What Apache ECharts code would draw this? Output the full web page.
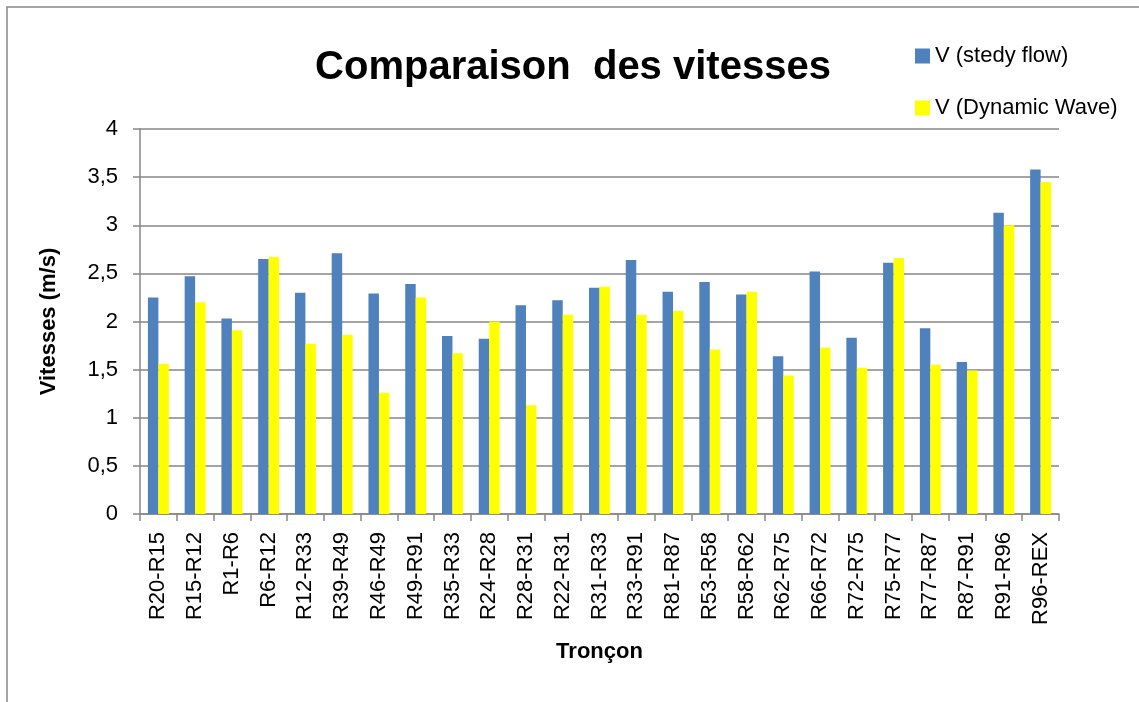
<!DOCTYPE html>
<html>
<head>
<meta charset="utf-8">
<title>Comparaison des vitesses</title>
<script src="https://cdn.jsdelivr.net/npm/echarts@6/dist/echarts.min.js"></script>
<style>
  html, body { margin: 0; padding: 0; background: #fff; }
  #chart { width: 1139px; height: 702px; }
</style>
</head>
<body>
<div id="chart"></div>
<script>
// Tronçons (pipe sections) along the network
const categories = [
  'R20-R15', 'R15-R12', 'R1-R6', 'R6-R12', 'R12-R33', 'R39-R49', 'R46-R49',
  'R49-R91', 'R35-R33', 'R24-R28', 'R28-R31', 'R22-R31', 'R31-R33', 'R33-R91',
  'R81-R87', 'R53-R58', 'R58-R62', 'R62-R75', 'R66-R72', 'R72-R75', 'R75-R77',
  'R77-R87', 'R87-R91', 'R91-R96', 'R96-REX'
];

// Velocities in m/s
const steadyFlow = [
  2.25, 2.47, 2.03, 2.65, 2.30, 2.71, 2.29, 2.39, 1.85, 1.82, 2.17, 2.22, 2.35,
  2.64, 2.31, 2.41, 2.28, 1.64, 2.52, 1.83, 2.61, 1.93, 1.58, 3.13, 3.58
];
const dynamicWave = [
  1.56, 2.20, 1.91, 2.67, 1.77, 1.86, 1.26, 2.25, 1.67, 2.00, 1.13, 2.07, 2.36,
  2.07, 2.11, 1.71, 2.31, 1.44, 1.73, 1.52, 2.66, 1.55, 1.49, 3.00, 3.45
];

const seriesNames = ['V (stedy flow)', 'V (Dynamic Wave)'];

const FONT = "'Liberation Sans', Arial, sans-serif";
const GRAY = '#868686';

const chart = echarts.init(document.getElementById('chart'), null, { renderer: 'canvas' });

chart.setOption({
  backgroundColor: '#ffffff',
  animation: false,
  title: {
    text: 'Comparaison  des vitesses',
    left: 568,
    textAlign: 'center',
    top: 43,
    textStyle: { fontFamily: FONT, fontSize: 40, fontWeight: 'bold', color: '#000' }
  },
  legend: {
    orient: 'vertical',
    left: 910,
    top: 40,
    itemWidth: 15,
    itemHeight: 15,
    itemGap: 30,
    icon: 'rect',
    textStyle: { fontFamily: FONT, fontSize: 22, color: '#000', lineHeight: 22 },
    data: seriesNames
  },
  graphic: [{
    type: 'rect',
    silent: true,
    shape: { x: 7, y: 7, width: 1300, height: 900 },
    style: { fill: 'none', stroke: GRAY, lineWidth: 1.5 }
  }],
  grid: { left: 140, right: 80, top: 129, bottom: 188, containLabel: false },
  xAxis: {
    type: 'category',
    data: categories,
    name: 'Tronçon',
    nameLocation: 'middle',
    nameGap: 127,
    nameTextStyle: { fontFamily: FONT, fontSize: 22, fontWeight: 'bold', color: '#000' },
    axisLine: { lineStyle: { color: GRAY, width: 1.5 } },
    axisTick: { show: true, length: 7, lineStyle: { color: GRAY, width: 1.5 } },
    axisLabel: {
      rotate: 90,
      margin: 18,
      interval: 0,
      fontFamily: FONT,
      fontSize: 22,
      color: '#000'
    }
  },
  yAxis: {
    type: 'value',
    min: 0,
    max: 4,
    interval: 0.5,
    name: 'Vitesses (m/s)',
    nameLocation: 'middle',
    nameRotate: 90,
    nameGap: 80,
    nameTextStyle: { fontFamily: FONT, fontSize: 22, fontWeight: 'bold', color: '#000' },
    axisLine: { show: true, lineStyle: { color: GRAY, width: 1.5 } },
    axisTick: { show: true, length: 7, lineStyle: { color: GRAY, width: 1.5 } },
    splitLine: { lineStyle: { color: GRAY, width: 1.5 } },
    axisLabel: {
      margin: 22,
      fontFamily: FONT,
      fontSize: 22,
      color: '#000',
      formatter: v => String(v).replace('.', ',')
    }
  },
  series: [
    {
      name: seriesNames[0],
      type: 'bar',
      data: steadyFlow,
      barGap: '0%',
      barCategoryGap: '43%',
      itemStyle: { color: '#4F81BD' }
    },
    {
      name: seriesNames[1],
      type: 'bar',
      data: dynamicWave,
      barGap: '0%',
      barCategoryGap: '43%',
      itemStyle: { color: '#FFFF00' }
    }
  ]
});
</script>
</body>
</html>
